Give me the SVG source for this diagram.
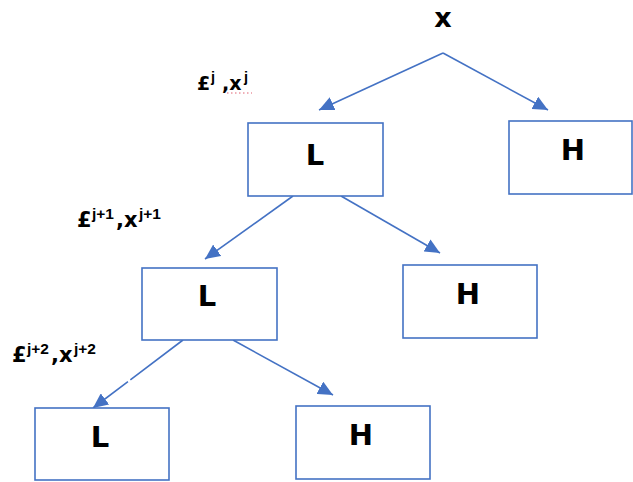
<svg xmlns="http://www.w3.org/2000/svg" width="633" height="482" viewBox="0 0 633 482">
<defs>
<style>
.box{fill:#fff;stroke:#4472C4;stroke-width:1.6}
.nt{font-family:"DejaVu Sans",Verdana,sans-serif;font-weight:bold;font-size:29px;fill:#000;text-anchor:middle}
.lb{font-family:"DejaVu Sans",Verdana,sans-serif;font-weight:bold;font-size:21px;fill:#000}
.sp{font-family:"Liberation Sans",Arial,sans-serif;font-weight:bold;font-size:15.5px;fill:#000}
.cn{stroke:#4472C4;stroke-width:1.6;fill:none;marker-end:url(#ah)}
</style>
<marker id="ah" markerUnits="userSpaceOnUse" markerWidth="16" markerHeight="14" viewBox="0 0 16 14" refX="15" refY="7" orient="auto">
<path d="M0,0 L15,7 L0,14 Z" fill="#4472C4"/>
</marker>
</defs>
<rect width="633" height="482" fill="#fff"/>
<g id="connectors">
<line class="cn" x1="443" y1="53" x2="319" y2="110"/>
<line class="cn" x1="443" y1="53" x2="548" y2="110"/>
<line class="cn" x1="293" y1="196" x2="205" y2="259"/>
<line class="cn" x1="341" y1="196" x2="440" y2="253"/>
<line class="cn" x1="183" y1="340" x2="93" y2="408" stroke-dasharray="66 3 200"/>
<line class="cn" x1="233" y1="340" x2="333" y2="395"/>
</g>
<g id="root"><text class="nt" x="443" y="27" style="font-size:27px">x</text></g>
<g id="L1"><rect class="box" x="248" y="123" width="135" height="73"/><text class="nt" x="315" y="165">L</text></g>
<g id="H1"><rect class="box" x="509" y="121" width="123" height="73"/><text class="nt" x="573" y="160">H</text></g>
<g id="L2"><rect class="box" x="142" y="268" width="135" height="72"/><text class="nt" x="207" y="306">L</text></g>
<g id="H2"><rect class="box" x="403" y="265" width="134" height="73"/><text class="nt" x="468" y="304">H</text></g>
<g id="L3"><rect class="box" x="35" y="408" width="134" height="72"/><text class="nt" x="100" y="447">L</text></g>
<g id="H3"><rect class="box" x="296" y="406" width="134" height="73"/><text class="nt" x="361" y="445">H</text></g>
<g id="label-j">
<text class="lb" x="197" y="90" style="font-size:19px">£</text>
<text class="sp" x="211" y="82" style="font-size:14.5px">j</text>
<text class="lb" x="222" y="90" style="font-size:19px">,x</text>
<text class="sp" x="244" y="82" style="font-size:14.5px">j</text>
<line x1="227" y1="93" x2="252" y2="93" stroke="#e06070" stroke-width="1" stroke-dasharray="1.5 2.5"/>
</g>
<g id="label-j1">
<text class="lb" x="77" y="227">£</text>
<text class="sp" x="92" y="219">j+1</text>
<text class="lb" x="116" y="227">,x</text>
<text class="sp" x="139" y="219">j+1</text>
</g>
<g id="label-j2">
<text class="lb" x="12" y="362">£</text>
<text class="sp" x="27" y="354">j+2</text>
<text class="lb" x="51" y="362">,x</text>
<text class="sp" x="74" y="354">j+2</text>
</g>
</svg>
